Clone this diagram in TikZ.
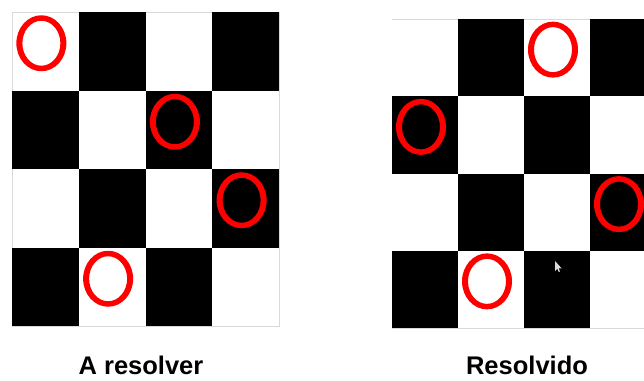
\documentclass[tikz,border=0pt]{standalone}
\usepackage{fontspec}
\setmainfont{Liberation Sans}
\tikzset{
  blackcell/.style={fill=black},
  rim/.style={draw=black!15, line width=1pt},
  ring/.style={fill=red, even odd rule},
  caption/.style={anchor=base, inner sep=0pt, font=\fontsize{25.5}{30}\selectfont\bfseries}
}
\newcommand{\ringat}[2]{%
  \fill[ring] (#1,#2) ellipse [x radius=25, y radius=28] (#1,#2) ellipse [x radius=19, y radius=22.5];}
\begin{document}
\begin{tikzpicture}[x=1pt,y=-1pt]
\useasboundingbox (0,0) rectangle (644,380);
\fill[white] (0,0) rectangle (644,380);
% left board
\def\lx{12}\def\ly{12}\def\lw{66.75}\def\lh{78.5}
\draw[rim] (\lx,\ly) rectangle ({\lx+4*\lw},{\ly+4*\lh});
\foreach \r in {0,...,3}{
  \foreach \c in {0,...,3}{
    \pgfmathtruncatemacro{\odd}{mod(\r+\c,2)}
    \ifnum\odd=1
      \fill[blackcell] ({\lx+\c*\lw},{\ly+\r*\lh}) rectangle ({\lx+(\c+1)*\lw},{\ly+(\r+1)*\lh});
    \fi
  }
}
\foreach \r/\c in {0/0,1/2,2/3,3/1}{
  \pgfmathsetmacro{\cx}{\lx+(\c+0.5)*\lw-4}
  \pgfmathsetmacro{\cy}{\ly+(\r+0.5)*\lh-8}
  \ringat{\cx}{\cy}
}
% right board
\def\rx{392}\def\ry{19}\def\rw{66}\def\rh{77.25}
\draw[rim] (\rx,\ry) -- (660,\ry);
\draw[rim] (\rx,{\ry+4*\rh}) -- (660,{\ry+4*\rh});
\foreach \r in {0,...,3}{
  \foreach \c in {0,...,3}{
    \pgfmathtruncatemacro{\odd}{mod(\r+\c,2)}
    \ifnum\odd=1
      \fill[blackcell] ({\rx+\c*\rw},{\ry+\r*\rh}) rectangle ({\rx+(\c+1)*\rw},{\ry+(\r+1)*\rh});
    \fi
  }
}
\foreach \r/\c in {0/2,1/0,2/3,3/1}{
  \pgfmathsetmacro{\cx}{\rx+(\c+0.5)*\rw-4}
  \pgfmathsetmacro{\cy}{\ry+(\r+0.5)*\rh-8}
  \ringat{\cx}{\cy}
}
% cursor
\fill[white!85!black] (555,261) -- (555,271) -- (557.3,268.8) -- (558.8,272) -- (560,271.4) -- (558.6,268.3) -- (561.6,268.3) -- cycle;
% captions
\node[caption] (lefttext) at (141,374) {A resolver};
\node[caption] (righttext) at (527,374) {Resolvido};
\end{tikzpicture}
\end{document}
